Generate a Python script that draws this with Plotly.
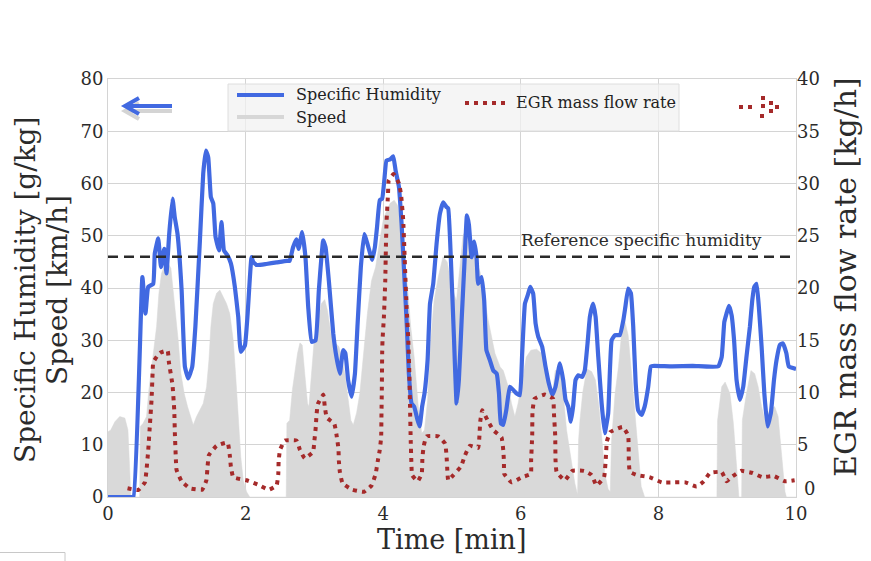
import plotly.graph_objects as go

# ---------------- data ----------------
hum_t = [0, 0.2, 0.32, 0.37, 0.50, 0.545, 0.585, 0.657, 0.68, 0.73, 0.77, 0.817, 0.85, 0.89, 0.938, 0.97, 1.01, 1.07, 1.118, 1.166,
         1.224, 1.27, 1.336, 1.384, 1.423, 1.457, 1.495, 1.53, 1.563, 1.612, 1.65, 1.685, 1.738, 1.786, 1.844, 1.893, 1.93,
         1.99, 2.03, 2.086, 2.11, 2.16, 2.3, 2.45, 2.6, 2.64, 2.69, 2.74, 2.77, 2.823, 2.87, 2.91, 2.96, 3.017, 3.065, 3.128,
         3.162, 3.21, 3.274, 3.32, 3.37, 3.418, 3.45, 3.49, 3.54, 3.589, 3.628, 3.675, 3.724, 3.77, 3.84, 3.879, 3.91, 3.95,
         3.985, 4.014, 4.048, 4.1, 4.146, 4.18, 4.228, 4.267, 4.305, 4.344, 4.373, 4.412, 4.45, 4.5, 4.53, 4.566, 4.6, 4.645,
         4.68, 4.727, 4.776, 4.824, 4.873, 4.92, 4.945, 4.984, 5.03, 5.067, 5.1, 5.14, 5.178, 5.217, 5.246, 5.285, 5.323,
         5.357, 5.38, 5.43, 5.468, 5.5, 5.55, 5.6, 5.65, 5.683, 5.71, 5.745, 5.79, 5.84, 5.89, 5.94, 5.987, 6.02, 6.06, 6.1,
         6.137, 6.18, 6.215, 6.253, 6.31, 6.36, 6.408, 6.456, 6.505, 6.568, 6.616, 6.65, 6.69, 6.728, 6.76, 6.796, 6.835,
         6.893, 6.93, 6.97, 7.004, 7.05, 7.087, 7.126, 7.175, 7.22, 7.27, 7.32, 7.37, 7.44, 7.49, 7.52, 7.56, 7.6, 7.634,
         7.67, 7.706, 7.755, 7.8, 7.852, 7.89, 7.94, 8.2, 8.5, 8.87, 8.92, 8.958, 8.99, 9.025, 9.064, 9.1, 9.136, 9.185,
         9.233, 9.28, 9.33, 9.364, 9.393, 9.427, 9.46, 9.5, 9.54, 9.586, 9.635, 9.68, 9.717, 9.765, 9.81, 9.86, 9.895, 10.0]
hum_v = [0, 0, 0, 0, 42.1, 35.1, 40.2, 40.8, 46.6, 49.5, 44, 47.5, 42.8, 50.4, 57.1, 53.6, 50.4, 39.6, 24.9, 22.7,
         24.9, 32.6, 49.1, 61.9, 66.3, 65.0, 57.4, 56.2, 49.8, 47.2, 52.6, 47.2, 46.2, 44.7, 40.2, 34.5, 27.8,
         29.0, 35.1, 45.9, 45, 44.4, 44.6, 44.9, 45.2, 45.2, 47.8, 49.3, 47.5, 50.7, 45.9, 36.4, 29.7, 30, 39.6, 49.1,
         47.8, 41.4, 31.3, 26.8, 23.6, 28.1, 27.5, 22.4, 19.2, 23.6, 33.2, 44, 50.3, 48.5, 45.4, 47.8, 51.6, 56.8,
         57.1, 60.3, 64.4, 64.6, 65.2, 62.5, 59.4, 52.3, 42.8, 32.6, 23.6, 17.9, 17.3, 14.7, 13.5, 17.3, 19.8, 26.2,
         37, 40.8, 48.5, 54.2, 56.4, 55.5, 55.2, 45.4, 30, 17.9, 22.4, 33.8, 44, 53.9, 52.1, 45.9, 48.9,
         45.9, 40.8, 42.1, 37.6, 28.1, 26.2, 24.2, 23.6, 19.8, 14.1, 13.8, 16.7, 21.1, 20.5, 19.8, 19.5, 27.5, 37, 38.6,
         40.2, 38.9, 33.2, 30.7, 28.8, 24.9, 21.7, 19.5, 21.1, 25.6, 22.4, 18.6, 17.3, 14.4, 17.3, 22.4, 23.3,
         23.0, 24.2, 29.4, 34.5, 37, 34.5, 26.8, 17.9, 12.2, 16.0, 30, 31, 31, 33.8, 36.4, 39.9, 39, 32.6,
         21.7, 16.6, 15.7, 17.3, 21.1, 25, 25.1, 25.0, 25.1, 25, 26.8, 33.5, 35.1, 36.6, 34.8, 30, 22.4, 18.6,
         21.1, 26.8, 32.6, 37.6, 40.2, 40.8, 36.4, 28.8, 19.8, 13.5, 16.1, 22.4, 26.2, 29.1, 29.4, 27.5, 25, 24.5]

speed_t = [0, 0.04, 0.1, 0.17, 0.245, 0.29, 0.318, 0.33, 0.46, 0.47, 0.51, 0.56, 0.594, 0.633, 0.67, 0.706, 0.74, 0.778,
           0.827, 0.875, 0.914, 0.948, 0.982, 1.02, 1.06, 1.108, 1.156, 1.205, 1.239, 1.287, 1.336, 1.384, 1.433, 1.467,
           1.495, 1.53, 1.578, 1.626, 1.675, 1.723, 1.77, 1.82, 1.854, 1.893, 1.93, 1.966, 2.014, 2.06, 2.59, 2.6, 2.64,
           2.68, 2.717, 2.755, 2.79, 2.823, 2.86, 2.9, 2.92, 2.95, 2.997, 3.056, 3.1, 3.15, 3.19, 3.24, 3.3, 3.356, 3.395,
           3.443, 3.49, 3.53, 3.565, 3.613, 3.66, 3.71, 3.77, 3.83, 3.89, 3.95, 4.0, 4.05, 4.1, 4.16, 4.21, 4.258, 4.305,
           4.354, 4.4, 4.45, 4.51, 4.56, 4.6, 4.645, 4.69, 4.74, 4.8, 4.87, 4.93, 5.0, 5.065, 5.12, 5.16, 5.21, 5.26, 5.33,
           5.41, 5.527, 5.624, 5.7, 5.745, 5.82, 5.865, 5.914, 5.96, 6.02, 6.08, 6.146, 6.23, 6.3, 6.375, 6.45, 6.5, 6.568,
           6.616, 6.665, 6.728, 6.786, 6.825, 6.84, 6.86, 6.9, 6.96, 7.03, 7.085, 7.135, 7.18, 7.22, 7.27, 7.3, 7.32, 7.37,
           7.42, 7.47, 7.51, 7.56, 7.61, 7.68, 7.75, 7.8, 8.85, 8.86, 8.92, 8.97, 9.04, 9.09, 9.14, 9.17, 9.21, 9.22, 9.28,
           9.345, 9.4, 9.45, 9.5, 9.55, 9.62, 9.69, 9.74, 9.79, 9.84, 9.86, 10.0]
speed_v = [12.5, 12.8, 14.4, 15.4, 15.1, 12.8, 4.5, 0, 0, 13.5, 14.1, 15.4, 20.5, 25, 29.5, 32.6, 39, 42.8,
           44.4, 44.7, 43.8, 39.6, 35.1, 30, 23.6, 19.8, 17.3, 15.4, 13.8, 15.4, 16.7, 17.9, 21.1, 26.2,
           32.6, 37, 39, 39.6, 38.3, 37, 35.1, 30, 23.6, 14.1, 7.7, 3.2, 1.0, 0, 0, 14.1, 14.7,
           20.5, 23.6, 27.5, 29.5, 29.1, 23.6, 17.9, 17.3, 22.4, 30, 33.8, 37, 37.8, 35.7, 31.3, 29.5, 28.8, 26.8,
           23.6, 18.5, 14.7, 13.8, 16.1, 19.8, 26.8, 35.1, 41.4, 44, 49.1, 53, 54.8, 56.2, 56.8, 55.8, 51.5, 45.9,
           40.2, 32.6, 26.8, 17.3, 12.2, 12.8, 18.5, 30, 37.6, 42.1, 46, 45, 40, 37.5, 45, 50, 51.4, 49, 46,
           43, 33.8, 27.5, 24.9, 24.2, 21, 17.9, 15.4, 17.9, 22.4, 26.8, 28.1, 28.3, 27.5, 23.6, 18.5, 24.2, 24.5,
           19.8, 12.8, 7, 2.6, 0.5, 10.9, 14.7, 20, 24.5, 24.0, 22.4, 17.3, 10.9, 4.5, 1.5, 1, 10.9, 19.8,
           25, 32, 33.8, 31, 23.6, 12, 2, 0, 0, 14.7, 21.1, 22, 19.8, 14.1, 4.5, 0, 0, 14.7, 19.8,
           24.2, 23.6, 21.1, 17.3, 14.7, 16.7, 17.3, 15.4, 7.7, 1, 0, 0]

egr_t = [0.284, 0.44, 0.536, 0.56, 0.585, 0.61, 0.633, 0.648, 0.658, 0.754, 0.866, 0.885, 0.938, 0.963, 0.972, 0.987,
         0.996, 1.07, 1.19, 1.37, 1.43, 1.447, 1.466, 1.578, 1.738, 1.77, 1.786, 1.82, 2.014, 2.174, 2.338, 2.45, 2.475,
         2.48, 2.5, 2.57, 2.74, 2.79, 2.86, 2.98, 3.0, 3.02, 3.03, 3.05, 3.13, 3.15, 3.18, 3.29, 3.32, 3.35, 3.355, 3.37,
         3.41, 3.55, 3.72, 3.83, 3.89, 3.92, 3.95, 3.97, 3.975, 3.98, 3.985, 3.99, 4.01, 4.03, 4.04, 4.05, 4.07, 4.08,
         4.15, 4.23, 4.26, 4.29, 4.305, 4.32, 4.34, 4.365, 4.38, 4.39, 4.4, 4.41, 4.42, 4.5, 4.56, 4.57, 4.59, 4.63, 4.8,
         4.9, 4.92, 4.935, 4.945, 5.02, 5.13, 5.19, 5.26, 5.38, 5.4, 5.41, 5.44, 5.52, 5.6, 5.72, 5.745, 5.755, 5.76,
         5.866, 6.02, 6.146, 6.15, 6.166, 6.17, 6.2, 6.35, 6.47, 6.48, 6.5, 6.505, 6.52, 6.64, 6.75, 6.92, 7.03, 7.1,
         7.21, 7.24, 7.25, 7.3, 7.48, 7.56, 7.57, 7.585, 7.69, 7.87, 8.05, 8.22, 8.39, 8.555, 8.66, 8.75, 8.92, 8.99,
         9.06, 9.2, 9.37, 9.51, 9.68, 9.84, 9.98]
egr_v = [0.83, 0.67, 1.4, 2.6, 4.5, 7.0, 9.3, 11.8, 12.9, 13.8, 14.0, 12.9, 10.7, 8.3, 6.1, 3.5,
         2.6, 1.5, 0.83, 0.7, 1.6, 2.9, 4.0, 4.9, 5.2, 4.0, 2.9, 1.9, 1.6, 1.2, 0.7, 1.1, 2.2,
         3.4, 4.5, 5.4, 5.4, 4.5, 3.7, 4.3, 5.4, 6.7, 7.8, 8.9, 9.8, 8.7, 7.6, 7.0, 6.0, 4.6, 3.5, 2.4,
         1.3, 0.7, 0.5, 1.1, 2.2, 3.4, 4.5, 5.7, 8.0, 10.2, 13.7, 15, 17.2, 20.7, 24.2, 26.5, 29.0, 30.3,
         30.9, 30, 28.9, 26.6, 24.2, 21.4, 18.2, 15, 11.8, 8.6, 5.4, 3.2, 2.1, 1.5, 2.2, 3.8, 4.9, 5.8, 5.8,
         5.1, 4.0, 2.2, 1.6, 2.1, 2.9, 4.0, 4.9, 4.7, 6.0, 7.2, 8.3, 7.3, 6.4, 5.7, 4.5, 3.4, 2.2,
         1.4, 1.9, 2.2, 3.5, 5.9, 8.2, 9.4, 9.8, 9.4, 8.2, 5.9, 3.5, 2.4, 1.6, 2.5, 2.5, 2.1, 1.1,
         1.9, 4.2, 5.3, 6.2, 6.7, 5.9, 3.5, 2.4, 2.1, 1.9, 1.4, 1.4, 1.4, 1.0, 1.5, 2.3, 2.4, 1.5,
         1.9, 2.5, 2.3, 1.9, 2.0, 1.5, 1.6]

REF_HUMIDITY = 46
x_ticks = [0, 2, 4, 6, 8, 10]
y2_ticks = [5, 10, 15, 20, 25, 30, 35, 40]

# ---------------- layout helpers ----------------
W, H = 871, 561
L, R, T, B = 108, 75, 79, 64
PW, PH = W - L - R, H - T - B
FONT = "DejaVu Serif"
TXT = "#2b2b2b"
GRID = "#d4d4d4"
BLUE = "rgb(65,105,225)"
RED = "rgb(165,42,42)"
GRAY = "rgb(217,217,217)"


def px(x):
    return (x - L) / PW


def py(y):
    return (H - B - y) / PH


fig = go.Figure()
fig.add_trace(go.Scatter(x=speed_t, y=speed_v, mode="lines", fill="tozeroy",
                         fillcolor=GRAY, line=dict(width=0.5, color=GRAY),
                         name="Speed", showlegend=False))
fig.add_trace(go.Scatter(x=hum_t, y=hum_v, mode="lines",
                         line=dict(width=4.2, color=BLUE, shape="spline", smoothing=0.35),
                         name="Specific Humidity", showlegend=False))
fig.add_trace(go.Scatter(x=egr_t, y=egr_v, mode="lines", yaxis="y2",
                         line=dict(width=4, color=RED, dash="4px,5px", shape="spline", smoothing=0.35),
                         name="EGR mass flow rate", showlegend=False))

shapes = []
# reference line
shapes.append(dict(type="line", xref="x", yref="y", x0=0, x1=10, y0=REF_HUMIDITY, y1=REF_HUMIDITY,
                   line=dict(color="#2a2a2a", width=2.5, dash="10px,6px"), layer="above"))
# legend box
shapes.append(dict(type="rect", xref="paper", yref="paper", x0=px(228), x1=px(679), y0=py(131), y1=py(84),
                   fillcolor="rgba(242,242,242,0.75)", line=dict(color="rgb(222,222,222)", width=1), layer="above"))
shapes.append(dict(type="line", xref="paper", yref="paper", x0=px(237), x1=px(284), y0=py(95), y1=py(95),
                   line=dict(color=BLUE, width=4), layer="above"))
shapes.append(dict(type="line", xref="paper", yref="paper", x0=px(237), x1=px(284), y0=py(117), y1=py(117),
                   line=dict(color="rgb(215,215,215)", width=4), layer="above"))
shapes.append(dict(type="line", xref="paper", yref="paper", x0=px(465), x1=px(508), y0=py(103), y1=py(103),
                   line=dict(color=RED, width=4, dash="4px,5px"), layer="above"))


def arrow(dx, dy, color):
    return dict(type="path", xref="paper", yref="paper", layer="above",
                path=(f"M {px(172+dx)},{py(106+dy)} L {px(125+dx)},{py(106+dy)} "
                      f"M {px(139+dx)},{py(98+dy)} L {px(125+dx)},{py(106+dy)} L {px(139+dx)},{py(114+dy)}"),
                line=dict(color=color, width=4))


shapes.append(arrow(0, 5, "rgb(212,212,212)"))
shapes.append(arrow(0, 0, BLUE))
for (dxp, dyp) in [(741, 107), (750, 107), (763, 98), (763, 106), (771, 103), (777, 107), (771, 111), (762, 116)]:
    shapes.append(dict(type="rect", xref="paper", yref="paper", layer="above",
                       x0=px(dxp - 2), x1=px(dxp + 2), y0=py(dyp + 2), y1=py(dyp - 2),
                       fillcolor=RED, line=dict(width=0)))
# small frame remnant bottom-left
shapes.append(dict(type="path", xref="paper", yref="paper", layer="above",
                   path=f"M {px(0)},{py(552.5)} L {px(65)},{py(552.5)} L {px(65)},{py(562)}",
                   line=dict(color="rgb(200,200,200)", width=1)))

annotations = [
    dict(text="Reference specific humidity", xref="x", yref="y", x=7.75, y=REF_HUMIDITY + 0.8,
         xanchor="center", yanchor="bottom", showarrow=False, font=dict(family=FONT, size=17, color=TXT)),
    dict(text="Specific Humidity", xref="paper", yref="paper", x=px(294), y=py(95), xanchor="left",
         yanchor="middle", showarrow=False, font=dict(family=FONT, size=16, color="#222")),
    dict(text="Speed", xref="paper", yref="paper", x=px(294), y=py(117), xanchor="left",
         yanchor="middle", showarrow=False, font=dict(family=FONT, size=16, color="#222")),
    dict(text="EGR mass flow rate", xref="paper", yref="paper", x=px(514), y=py(103), xanchor="left",
         yanchor="middle", showarrow=False, font=dict(family=FONT, size=16, color="#222")),
    dict(text="Specific Humidity [g/kg]", xref="paper", yref="paper", x=px(25), y=py(290), textangle=-90,
         xanchor="center", yanchor="middle", showarrow=False, font=dict(family=FONT, size=28, color=TXT)),
    dict(text="Speed [km/h]", xref="paper", yref="paper", x=px(57), y=py(290), textangle=-90,
         xanchor="center", yanchor="middle", showarrow=False, font=dict(family=FONT, size=28, color=TXT)),
    dict(text="EGR mass flow rate [kg/h]", xref="paper", yref="paper", x=px(845), y=py(277), textangle=-90,
         xanchor="center", yanchor="middle", showarrow=False, font=dict(family=FONT, size=30, color=TXT)),
    dict(text="Time [min]", xref="paper", yref="paper", x=0.5, y=py(539),
         xanchor="center", yanchor="middle", showarrow=False, font=dict(family=FONT, size=27, color=TXT)),
    # raised zero label of the right axis (as in the reference)
    dict(text="0", xref="paper", yref="paper", x=px(802), y=py(488),
         xanchor="left", yanchor="middle", showarrow=False, font=dict(family=FONT, size=18, color=TXT)),
]

fig.update_layout(
    width=W, height=H, margin=dict(l=L, r=R, t=T, b=B, autoexpand=False),
    plot_bgcolor="white", paper_bgcolor="white",
    font=dict(family=FONT, size=18, color=TXT),
    shapes=shapes, annotations=annotations, showlegend=False,
    xaxis=dict(range=[0, 10], tickvals=x_ticks, showgrid=True, gridcolor=GRID, gridwidth=1,
               showline=True, linecolor=GRID, mirror=True, zeroline=False, ticks="",
               tickfont=dict(family=FONT, size=18, color=TXT)),
    yaxis=dict(range=[0, 80], dtick=10, showgrid=True, gridcolor=GRID, gridwidth=1,
               showline=True, linecolor=GRID, mirror=True, zeroline=False, ticks="",
               tickfont=dict(family=FONT, size=18, color=TXT)),
    yaxis2=dict(range=[0, 40], tickvals=y2_ticks, overlaying="y", side="right", showgrid=False, zeroline=False,
                showline=False, ticks="", tickfont=dict(family=FONT, size=18, color=TXT)),
)

fig.write_html("out.html")
